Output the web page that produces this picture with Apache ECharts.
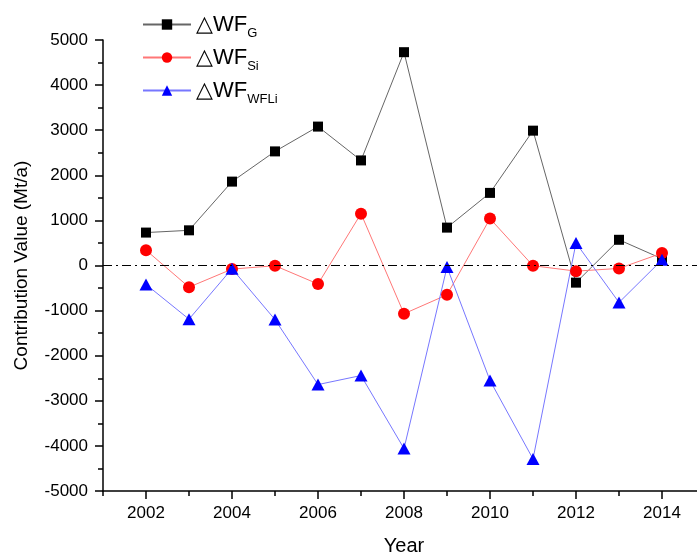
<!DOCTYPE html>
<html><head><meta charset="utf-8">
<script src="https://cdn.jsdelivr.net/npm/echarts@6/dist/echarts.min.js"></script>
<style>html,body{margin:0;padding:0;background:#fff}#c{width:697px;height:555px}</style>
</head><body><div id="c"></div>
<script>
const years = [2002,2003,2004,2005,2006,2007,2008,2009,2010,2011,2012,2013,2014];
const wfG   = [730, 780, 1860, 2530, 3080, 2330, 4730, 840, 1610, 2990, -380, 570, 150];
const wfSi  = [340, -480, -80, -5, -410, 1150, -1070, -650, 1040, -5, -125, -65, 275];
const wfWFLi= [-420, -1190, -70, -1200, -2640, -2440, -4060, -35, -2550, -4290, 500, -820, 125];
const seriesNames = ['△WF_G', '△WF_Si', '△WF_WFLi'];
const majorYears = [2002,2004,2006,2008,2010,2012,2014];

const font = 'Liberation Sans, Arial, sans-serif';
const chart = echarts.init(document.getElementById('c'), null, {renderer:'canvas'});
function pts(vals){ return years.map((y,i)=>[y, vals[i]]); }
const axisLine = {show:true, onZero:false, lineStyle:{color:'#000', width:1.5}};
chart.setOption({
  backgroundColor:'#fff',
  animation:false,
  grid:{left:103, top:40, width:602, height:451, containLabel:false, outerBoundsMode:'none'},
  legend:{
    orient:'vertical', left:137, top:4, itemWidth:48, itemHeight:13, itemGap:2,
    formatter:function(n){ const p=n.split('_'); return '{a|'+p[0]+'}{b|'+p[1]+'}'; },
    data:seriesNames,
    textStyle:{
      fontFamily:font,
      rich:{
        a:{fontSize:22, fontFamily:font, color:'#000', lineHeight:24},
        b:{fontSize:13, fontFamily:font, color:'#000', lineHeight:13, padding:[18,0,0,0]}
      }
    }
  },
  xAxis:[{
    type:'value', min:2001, max:2015, interval:1,
    name:'Year', nameLocation:'middle', nameGap:45,
    nameTextStyle:{fontFamily:font, fontSize:20, color:'#000'},
    axisLine:axisLine,
    axisTick:{show:true, inside:false, length:5, lineStyle:{color:'#000', width:1.5}},
    axisLabel:{show:true, fontFamily:font, fontSize:17, color:'#000', margin:14,
      formatter:function(v){ return (v%2===0 && v>2001 && v<2015)? String(v):''; }},
    splitLine:{show:false}
  },{
    type:'value', min:2001, max:2015, position:'bottom', gridIndex:0,
    axisLine:{show:false, onZero:false},
    axisTick:{show:true, length:8, customValues:majorYears, lineStyle:{color:'#000', width:1.5}},
    axisLabel:{show:false},
    splitLine:{show:false}
  }],
  yAxis:{
    type:'value', min:-5000, max:5000, interval:1000,
    name:'Contribution Value (Mt/a)', nameLocation:'middle', nameGap:72,
    nameTextStyle:{fontFamily:font, fontSize:19, color:'#000'},
    axisLine:axisLine,
    axisTick:{show:true, length:8, lineStyle:{color:'#000', width:1.5}},
    minorTick:{show:true, splitNumber:2, length:5, lineStyle:{color:'#000', width:1.5}},
    axisLabel:{fontFamily:font, fontSize:17, color:'#000', margin:15,
      formatter:function(v){ return String(v); }},
    splitLine:{show:false}
  },
  series:[{
    name:seriesNames[0], type:'line', data:pts(wfG), symbol:'rect', symbolSize:10,
    itemStyle:{color:'#000'}, lineStyle:{color:'#666', width:1},
    markLine:{silent:true, symbol:['none','none'], label:{show:false},
      lineStyle:{color:'#000', width:1, type:[9,4,2,4], opacity:1}, data:[{yAxis:0}]}
  },{
    name:seriesNames[1], type:'line', data:pts(wfSi), symbol:'circle', symbolSize:12,
    itemStyle:{color:'#ff0000'}, lineStyle:{color:'#ff7777', width:1}
  },{
    name:seriesNames[2], type:'line', data:pts(wfWFLi), symbol:'triangle', symbolSize:[13,12],
    itemStyle:{color:'#0000ff'}, lineStyle:{color:'#7777ff', width:1}
  }]
});
</script></body></html>
